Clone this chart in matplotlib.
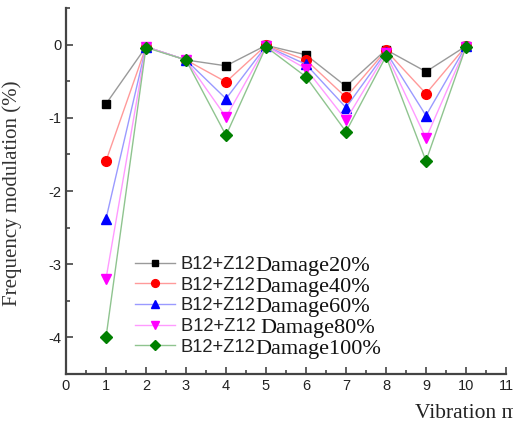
import numpy as np
import matplotlib
matplotlib.use("Agg")
import matplotlib.pyplot as plt
from matplotlib.ticker import MultipleLocator

plt.rcParams['axes.unicode_minus'] = False

# Data
modes = [1, 2, 3, 4, 5, 6, 7, 8, 9, 10]
d20 = [-0.81, -0.03, -0.21, -0.29, -0.01, -0.14, -0.57, -0.07, -0.37, -0.02]
d40 = [-1.59, -0.03, -0.21, -0.51, -0.01, -0.21, -0.72, -0.08, -0.67, -0.02]
d60 = [-2.38, -0.03, -0.21, -0.74, -0.02, -0.27, -0.86, -0.10, -0.97, -0.02]
d80 = [-3.20, -0.03, -0.21, -0.99, -0.02, -0.33, -1.03, -0.12, -1.28, -0.03]
d100 = [-4.00, -0.04, -0.21, -1.24, -0.03, -0.44, -1.19, -0.16, -1.59, -0.03]

series = [d20, d40, d60, d80, d100]
prefix = ['B12+Z12', 'B12+Z12', 'B12+Z12', 'B12+Z12 ', 'B12+Z12']
damage = ['Damage20%', 'Damage40%', 'Damage60%', 'Damage80%', 'Damage100%']
markers = ['s', 'o', '^', 'v', 'D']
mcolors = ['#000000', '#ff0000', '#0000ff', '#ff00ff', '#008000']
lcolors = ['#9a9a9a', '#ff9a9a', '#9a9aff', '#ff9aff', '#8fc48f']
msizes = [6, 7, 7, 7, 6]

fig = plt.figure(figsize=(5.13, 4.23), dpi=100)
ax = fig.add_axes([66/513, 1-374/423, 440/513, 366/423])

for y, m, mc, lc, ms, lab in zip(series, markers, mcolors, lcolors, msizes, prefix):
    ax.plot(modes, y, color=lc, lw=1, marker=m, markersize=ms,
            markerfacecolor=mc, markeredgecolor=mc, label=lab)

ax.set_xlim(0, 11)
ax.set_ylim(-4.5, 0.5)
ax.xaxis.set_major_locator(MultipleLocator(1))
ax.xaxis.set_minor_locator(MultipleLocator(0.5))
ax.yaxis.set_minor_locator(MultipleLocator(0.5))
ax.set_yticks([-4, -3, -2, -1, 0])

for s in ['top', 'right']:
    ax.spines[s].set_visible(False)
for s in ['left', 'bottom']:
    ax.spines[s].set_linewidth(1.6)
    ax.spines[s].set_color('#444444')

ax.tick_params(which='both', direction='in', color='#444444', width=1.2,
               labelsize=10.5, labelcolor='#222222')
ax.tick_params(which='major', length=5)
ax.tick_params(which='minor', length=3)
for t in ax.get_xticklabels() + ax.get_yticklabels():
    t.set_family('Liberation Sans')

ax.set_ylabel('Frequency modulation (%)', family='Liberation Serif',
              fontsize=15, color='#333333')
ax.yaxis.set_label_coords(-0.10, 0.495)
ax.set_xlabel('Vibration mode', family='Liberation Serif', fontsize=15.5,
              color='#222222', ha='left', va='baseline')
ax.xaxis.set_label_coords((415-66)/440, -44/366)

leg = ax.legend(loc='upper left', bbox_to_anchor=((135-66)/440, (374-256)/366),
                frameon=False, handlelength=2.2, handletextpad=0.3,
                labelspacing=0.2, borderpad=0, borderaxespad=0,
                markerscale=0.8,
                prop={'family': 'Liberation Sans', 'size': 13.2})
for t in leg.get_texts():
    t.set_color('#222222')

fig.canvas.draw()
inv = fig.transFigure.inverted()
for t, d in zip(leg.get_texts(), damage):
    bb = t.get_window_extent()
    x, y = inv.transform((bb.x1, bb.y0))
    fig.text(x, y - 3/423, d, family='Liberation Serif', fontsize=16,
             color='#111111', va='bottom', ha='left')

fig.savefig('out.png', dpi=100)
